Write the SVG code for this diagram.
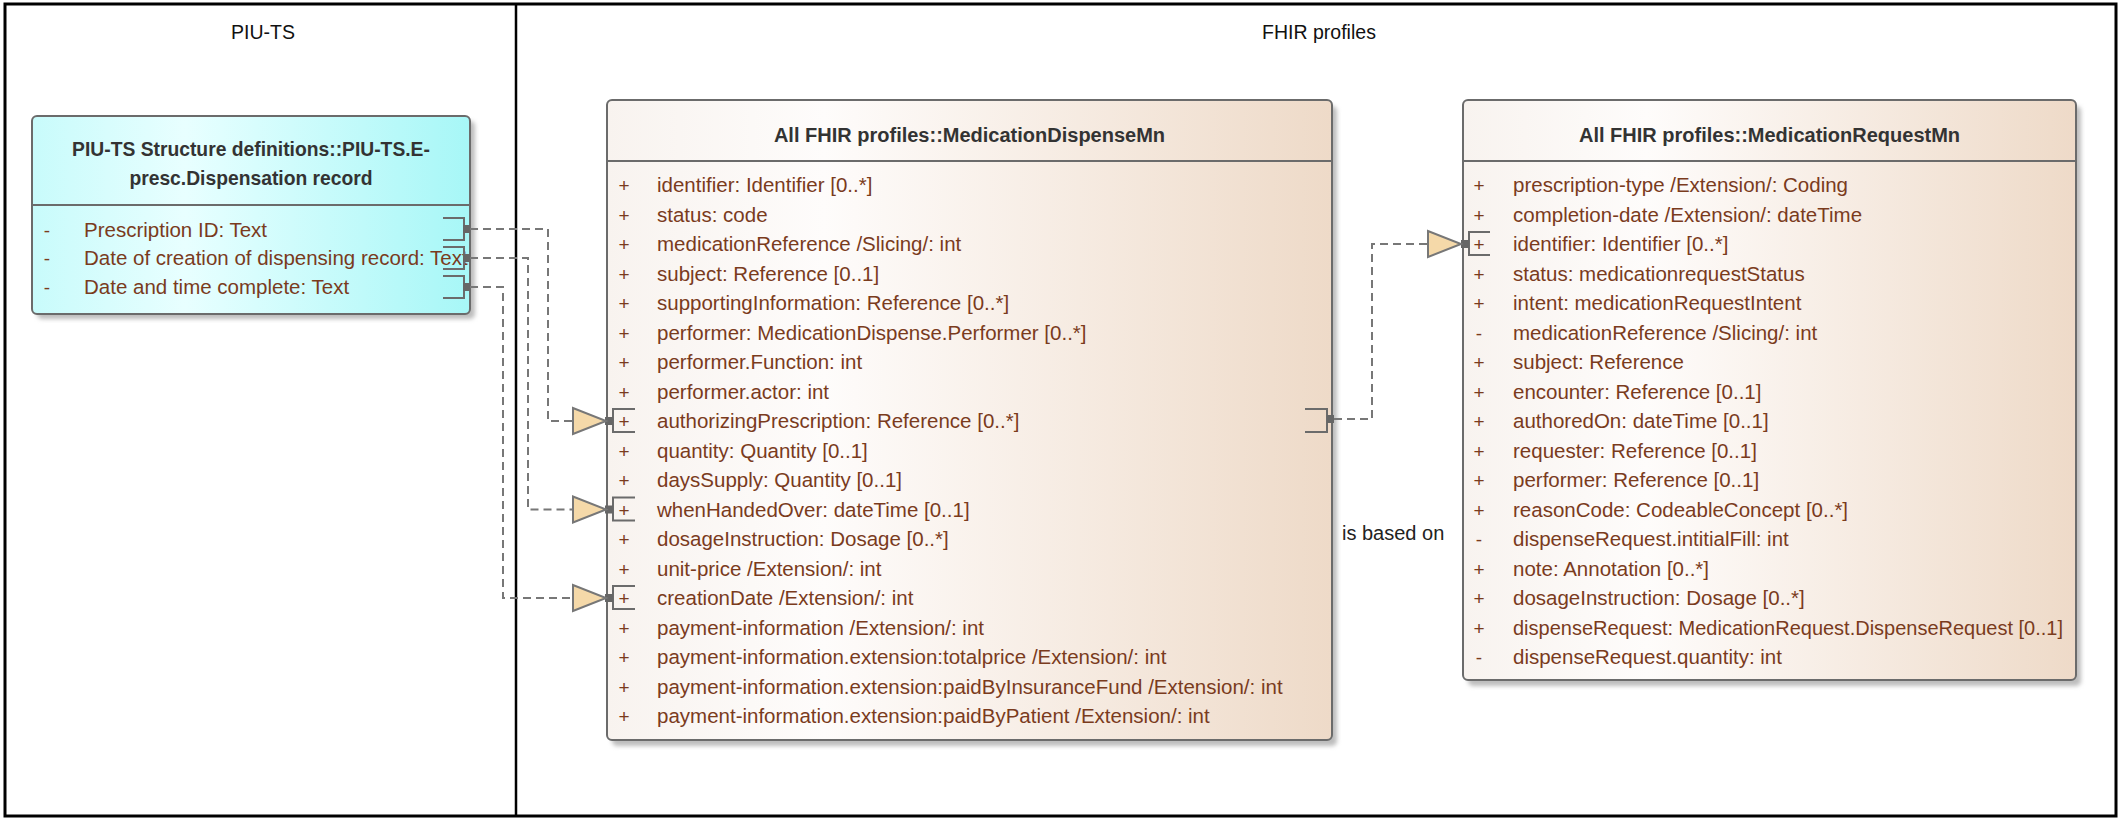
<svg xmlns="http://www.w3.org/2000/svg" width="2119" height="819" viewBox="0 0 2119 819">
<style>
text{font-family:"Liberation Sans",Arial,sans-serif}
.hdr{font-size:19.5px;fill:#111;text-anchor:middle}
.ttl{font-size:20px;font-weight:bold;fill:#333;text-anchor:middle}
.ttl2{font-size:19.3px;font-weight:bold;fill:#333;text-anchor:middle}
.att{font-size:20.5px;fill:#7a3b1d}
.vis{font-size:19px;fill:#7a3b1d;text-anchor:middle}
.lbl{font-size:20px;fill:#222}
.box{stroke:#6b6b6b;stroke-width:2}
.sep{stroke:#6b6b6b;stroke-width:2}
.shadow{fill:#bdbdbd;filter:url(#blur)}
.con{fill:none;stroke:#777;stroke-width:2;stroke-dasharray:8 5}
.tri{fill:#f5d9a9;stroke:#777;stroke-width:2}
.port{fill:#666}
.brk{fill:none;stroke:#6b6b6b;stroke-width:2}
</style>
<defs>
<linearGradient id="gFhir" x1="0" y1="0" x2="1" y2="0">
<stop offset="0" stop-color="#f8f3ef"/>
<stop offset="0.3" stop-color="#fefcfb"/>
<stop offset="1" stop-color="#eedac8"/>
</linearGradient>
<linearGradient id="gPiu" x1="0" y1="0" x2="1" y2="0">
<stop offset="0" stop-color="#c8fbfb"/>
<stop offset="0.35" stop-color="#e8ffff"/>
<stop offset="1" stop-color="#a7f7f7"/>
</linearGradient>
<filter id="blur" x="-5%" y="-5%" width="110%" height="110%"><feGaussianBlur stdDeviation="2"/></filter>
</defs>
<rect x="0" y="0" width="2119" height="819" fill="#fff"/>

<g id="frame">
<rect x="5" y="4" width="2111" height="812" fill="none" stroke="#000" stroke-width="3"/>
<line x1="516" y1="4" x2="516" y2="816" stroke="#000" stroke-width="2.5"/>
<text class="hdr" x="263" y="39">PIU-TS</text>
<text class="hdr" x="1319" y="39">FHIR profiles</text>
</g>

<g id="piu-record">
<rect class="shadow" x="37" y="121" width="438" height="198" rx="5"/>
<rect class="box" x="32" y="116" width="438" height="198" rx="5" fill="url(#gPiu)"/>
<line class="sep" x1="32" y1="205" x2="470" y2="205"/>
<text class="ttl2" x="251" y="156">PIU-TS Structure definitions::PIU-TS.E-</text>
<text class="ttl2" x="251" y="185">presc.Dispensation record</text>
<text class="vis" x="47" y="237">-</text><text class="att" x="84" y="237">Prescription ID: Text</text>
<text class="vis" x="47" y="265">-</text><text class="att" x="84" y="265">Date of creation of dispensing record: Text</text>
<text class="vis" x="47" y="294">-</text><text class="att" x="84" y="294">Date and time complete: Text</text>
<path class="brk" d="M443,218 H464 V240 H443 M443,247 H464 V269 H443 M443,276 H464 V298 H443"/>
<rect class="port" x="463" y="225" width="7" height="8"/>
<rect class="port" x="463" y="254" width="7" height="8"/>
<rect class="port" x="463" y="283" width="7" height="8"/>
</g>

<g id="medication-dispense">
<rect class="shadow" x="612" y="106" width="725" height="640" rx="5"/>
<rect class="box" x="607" y="100" width="725" height="640" rx="5" fill="url(#gFhir)"/>
<line class="sep" x1="607" y1="161" x2="1332" y2="161"/>
<text class="ttl" x="969.5" y="142">All FHIR profiles::MedicationDispenseMn</text>
<g>
<text class="vis" x="624" y="192">+</text><text class="att" x="657" y="192">identifier: Identifier [0..*]</text>
<text class="vis" x="624" y="221.5">+</text><text class="att" x="657" y="221.5">status: code</text>
<text class="vis" x="624" y="251">+</text><text class="att" x="657" y="251">medicationReference /Slicing/: int</text>
<text class="vis" x="624" y="280.5">+</text><text class="att" x="657" y="280.5">subject: Reference [0..1]</text>
<text class="vis" x="624" y="310">+</text><text class="att" x="657" y="310">supportingInformation: Reference [0..*]</text>
<text class="vis" x="624" y="339.5">+</text><text class="att" x="657" y="339.5">performer: MedicationDispense.Performer [0..*]</text>
<text class="vis" x="624" y="369">+</text><text class="att" x="657" y="369">performer.Function: int</text>
<text class="vis" x="624" y="398.5">+</text><text class="att" x="657" y="398.5">performer.actor: int</text>
<text class="vis" x="624" y="428">+</text><text class="att" x="657" y="428">authorizingPrescription: Reference [0..*]</text>
<text class="vis" x="624" y="457.5">+</text><text class="att" x="657" y="457.5">quantity: Quantity [0..1]</text>
<text class="vis" x="624" y="487">+</text><text class="att" x="657" y="487">daysSupply: Quantity [0..1]</text>
<text class="vis" x="624" y="516.5">+</text><text class="att" x="657" y="516.5">whenHandedOver: dateTime [0..1]</text>
<text class="vis" x="624" y="546">+</text><text class="att" x="657" y="546">dosageInstruction: Dosage [0..*]</text>
<text class="vis" x="624" y="575.5">+</text><text class="att" x="657" y="575.5">unit-price /Extension/: int</text>
<text class="vis" x="624" y="605">+</text><text class="att" x="657" y="605">creationDate /Extension/: int</text>
<text class="vis" x="624" y="634.5">+</text><text class="att" x="657" y="634.5">payment-information /Extension/: int</text>
<text class="vis" x="624" y="664">+</text><text class="att" x="657" y="664">payment-information.extension:totalprice /Extension/: int</text>
<text class="vis" x="624" y="693.5">+</text><text class="att" x="657" y="693.5">payment-information.extension:paidByInsuranceFund /Extension/: int</text>
<text class="vis" x="624" y="723">+</text><text class="att" x="657" y="723">payment-information.extension:paidByPatient /Extension/: int</text>
</g>
<path class="brk" d="M635,409 H613 V432 H635 M635,497.5 H613 V520.5 H635 M635,586 H613 V609 H635"/>
<rect class="port" x="605" y="417" width="8" height="8"/>
<rect class="port" x="605" y="505.5" width="8" height="8"/>
<rect class="port" x="605" y="594" width="8" height="8"/>
<path class="brk" d="M1305,409 H1327 V432 H1305"/>
<rect class="port" x="1327" y="415" width="7" height="8"/>
</g>

<g id="medication-request">
<rect class="shadow" x="1468" y="106" width="613" height="580" rx="5"/>
<rect class="box" x="1463" y="100" width="613" height="580" rx="5" fill="url(#gFhir)"/>
<line class="sep" x1="1463" y1="161" x2="2076" y2="161"/>
<text class="ttl" x="1769.5" y="142">All FHIR profiles::MedicationRequestMn</text>
<g>
<text class="vis" x="1479" y="192">+</text><text class="att" x="1513" y="192">prescription-type /Extension/: Coding</text>
<text class="vis" x="1479" y="221.5">+</text><text class="att" x="1513" y="221.5">completion-date /Extension/: dateTime</text>
<text class="vis" x="1479" y="251">+</text><text class="att" x="1513" y="251">identifier: Identifier [0..*]</text>
<text class="vis" x="1479" y="280.5">+</text><text class="att" x="1513" y="280.5">status: medicationrequestStatus</text>
<text class="vis" x="1479" y="310">+</text><text class="att" x="1513" y="310">intent: medicationRequestIntent</text>
<text class="vis" x="1479" y="339.5">-</text><text class="att" x="1513" y="339.5">medicationReference /Slicing/: int</text>
<text class="vis" x="1479" y="369">+</text><text class="att" x="1513" y="369">subject: Reference</text>
<text class="vis" x="1479" y="398.5">+</text><text class="att" x="1513" y="398.5">encounter: Reference [0..1]</text>
<text class="vis" x="1479" y="428">+</text><text class="att" x="1513" y="428">authoredOn: dateTime [0..1]</text>
<text class="vis" x="1479" y="457.5">+</text><text class="att" x="1513" y="457.5">requester: Reference [0..1]</text>
<text class="vis" x="1479" y="487">+</text><text class="att" x="1513" y="487">performer: Reference [0..1]</text>
<text class="vis" x="1479" y="516.5">+</text><text class="att" x="1513" y="516.5">reasonCode: CodeableConcept [0..*]</text>
<text class="vis" x="1479" y="546">-</text><text class="att" x="1513" y="546">dispenseRequest.intitialFill: int</text>
<text class="vis" x="1479" y="575.5">+</text><text class="att" x="1513" y="575.5">note: Annotation [0..*]</text>
<text class="vis" x="1479" y="605">+</text><text class="att" x="1513" y="605">dosageInstruction: Dosage [0..*]</text>
<text class="vis" x="1479" y="634.5">+</text><text class="att" x="1513" y="634.5" textLength="550" lengthAdjust="spacingAndGlyphs">dispenseRequest: MedicationRequest.DispenseRequest [0..1]</text>
<text class="vis" x="1479" y="664">-</text><text class="att" x="1513" y="664">dispenseRequest.quantity: int</text>
</g>
<path class="brk" d="M1490,232 H1469 V255 H1490"/>
<rect class="port" x="1461" y="240" width="8" height="8"/>
</g>

<g id="connectors">
<path class="con" d="M470,229 H548 V421 H573"/>
<path class="con" d="M470,258 H528 V509.5 H573"/>
<path class="con" d="M470,287 H503 V598 H573"/>
<path class="con" d="M1334,419 H1372 V244 H1428"/>
<polygon class="tri" points="573,408 573,434 606,421"/>
<polygon class="tri" points="573,496.5 573,522.5 606,509.5"/>
<polygon class="tri" points="573,585 573,611 606,598"/>
<polygon class="tri" points="1428,231 1428,257 1461,244"/>
<text class="lbl" x="1342" y="540">is based on</text>
</g>
</svg>
